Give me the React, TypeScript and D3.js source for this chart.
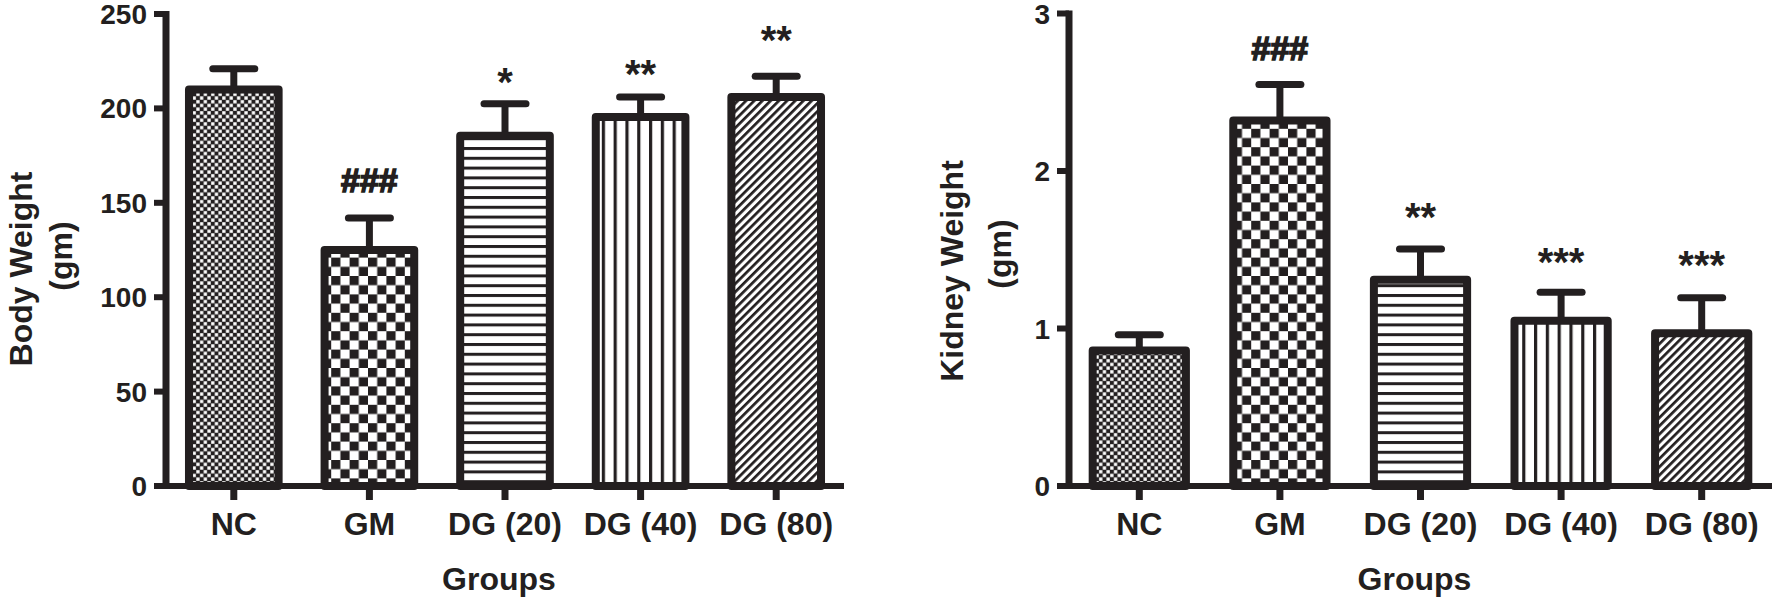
import React from "react";
import * as d3 from "d3";

// groups and values
const groups = ["NC", "GM", "DG (20)", "DG (40)", "DG (80)"];
const fills = ["dots", "checker", "hlines", "vlines", "diag"];

const bodyMean = [210, 125, 185.5, 195.5, 206];
const bodySem = [11, 17, 17, 10.5, 11];
const bodyMarks = ["", "###", "*", "**", "**"];
const bodyMarkAt = [0, 162, 219, 223, 241];
const bodyTicks = [0, 50, 100, 150, 200, 250];

const kidneyMean = [0.86, 2.32, 1.31, 1.05, 0.97];
const kidneySem = [0.1, 0.23, 0.195, 0.18, 0.225];
const kidneyMarks = ["", "###", "**", "***", "***"];
const kidneyMarkAt = [0, 2.78, 1.764, 1.479, 1.46];
const kidneyTicks = [0, 1, 2, 3];

const ink = "#231f20";
const font = "'Liberation Sans', Arial, Helvetica, sans-serif";
const base = 486;

const Patterns = () => (
  <defs>
    <pattern id="dots" width={7.4} height={7.4} patternUnits="userSpaceOnUse">
      <rect width={7.4} height={7.4} fill={ink} />
      <rect x={0.2} y={0.2} width={3.3} height={3.3} fill="#fff" />
      <rect x={3.9} y={3.9} width={3.3} height={3.3} fill="#fff" />
    </pattern>
    <pattern id="checker" width={18.4} height={18.4} patternUnits="userSpaceOnUse">
      <rect width={18.4} height={18.4} fill="#fff" />
      <rect x={0} y={0} width={9.2} height={9.2} fill={ink} />
      <rect x={9.2} y={9.2} width={9.2} height={9.2} fill={ink} />
    </pattern>
    <pattern id="hlines" width={10} height={9.8} patternUnits="userSpaceOnUse">
      <rect width={10} height={9.8} fill="#fff" />
      <rect y={0} width={10} height={3} fill={ink} />
    </pattern>
    <pattern id="vlines" width={11.8} height={10} patternUnits="userSpaceOnUse">
      <rect width={11.8} height={10} fill="#fff" />
      <rect x={0} width={3.2} height={10} fill={ink} />
    </pattern>
    <pattern id="diag" width={5.8} height={10} patternUnits="userSpaceOnUse" patternTransform="rotate(45)">
      <rect width={5.8} height={10} fill="#fff" />
      <rect x={0} width={2.7} height={10} fill={ink} />
    </pattern>
  </defs>
);

type PanelProps = {
  means: number[];
  sems: number[];
  marks: string[];
  markAt: number[];
  ticks: number[];
  x0: number;
  x1: number;
  top: number;
  label: string;
  labelX: [number, number];
  labelY: [number, number];
};

const Panel = ({ means, sems, marks, markAt, ticks, x0, x1, top, label, labelX, labelY }: PanelProps) => {
  const y = d3.scaleLinear().domain([0, d3.max(ticks)!]).range([base, top]);
  const x = d3.scaleBand().domain(groups).range([x0, x1]).paddingInner(0.28).paddingOuter(0.14);
  const bw = x.bandwidth();

  return (
    <g fontFamily={font} fontWeight="bold" fill={ink}>
      {groups.map((g, i) => {
        const cx = x(g)! + bw / 2;
        const yTop = y(means[i]);
        const yErr = y(means[i] + sems[i]);
        const hash = marks[i].startsWith("#");
        return (
          <g key={g}>
            <line x1={cx} x2={cx} y1={yTop} y2={yErr} stroke={ink} strokeWidth={7} />
            <line x1={cx - 21} x2={cx + 21} y1={yErr} y2={yErr} stroke={ink} strokeWidth={7} strokeLinecap="round" />
            <rect
              x={x(g)! + 4}
              y={yTop}
              width={bw - 8}
              height={base - yTop}
              fill={`url(#${fills[i]})`}
              stroke={ink}
              strokeWidth={8}
              strokeLinejoin="round"
            />
            {marks[i] && (
              <text
                x={cx}
                y={hash ? y(markAt[i]) + 12 : y(markAt[i]) + 23}
                textAnchor="middle"
                fontSize={hash ? 34 : 40}
                stroke={hash ? ink : "none"}
                strokeWidth={hash ? 1.6 : 0}
              >
                {marks[i]}
              </text>
            )}
            <line x1={cx} x2={cx} y1={base} y2={base + 14} stroke={ink} strokeWidth={7} />
            <text x={cx} y={base + 49} textAnchor="middle" fontSize={32}>
              {g}
            </text>
          </g>
        );
      })}

      {/* axes */}
      <line x1={x0 - 12} x2={x1} y1={base} y2={base} stroke={ink} strokeWidth={6} />
      <line x1={x0} x2={x0} y1={y(d3.max(ticks)!) - 3} y2={base + 3} stroke={ink} strokeWidth={7} />
      {ticks.map((t) => (
        <g key={t}>
          <line x1={x0 - 12} x2={x0} y1={y(t)} y2={y(t)} stroke={ink} strokeWidth={6} />
          <text x={x0 - 19} y={y(t) + 10} textAnchor="end" fontSize={28}>
            {t}
          </text>
        </g>
      ))}

      <text x={(x0 + x1) / 2 - 6} y={590} textAnchor="middle" fontSize={32}>
        Groups
      </text>
      <text transform={`translate(${labelX[0]},${labelY[0]}) rotate(-90)`} textAnchor="middle" fontSize={32}>
        {label}
      </text>
      <text transform={`translate(${labelX[1]},${labelY[1]}) rotate(-90)`} textAnchor="middle" fontSize={32}>
        (gm)
      </text>
    </g>
  );
};

export default function App() {
  return (
    <svg
      width={1776}
      height={600}
      style={{ position: "absolute", left: 0, top: 0, background: "#fff" }}
    >
      <Patterns />
      <Panel
        means={bodyMean}
        sems={bodySem}
        marks={bodyMarks}
        markAt={bodyMarkAt}
        ticks={bodyTicks}
        x0={166}
        x1={844}
        top={14}
        label="Body Weight"
        labelX={[32, 72]}
        labelY={[269, 256]}
      />
      <Panel
        means={kidneyMean}
        sems={kidneySem}
        marks={kidneyMarks}
        markAt={kidneyMarkAt}
        ticks={kidneyTicks}
        x0={1069}
        x1={1772}
        top={13.5}
        label="Kidney Weight"
        labelX={[963, 1011]}
        labelY={[271, 254]}
      />
    </svg>
  );
}
